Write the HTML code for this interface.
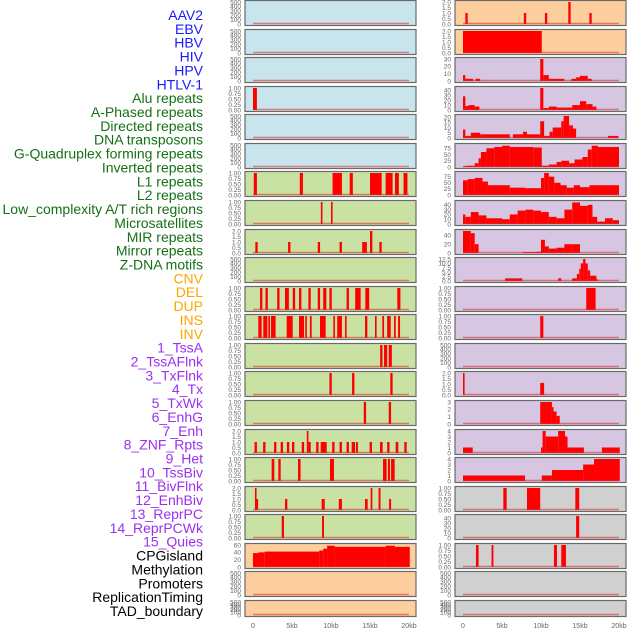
<!DOCTYPE html>
<html><head><meta charset="utf-8"><style>
body{margin:0;background:#fff;width:630px;height:630px;overflow:hidden}
svg{display:block}
text{font-family:"Liberation Sans","DejaVu Sans",sans-serif}
</style></head><body>
<svg id="chart" width="630" height="630" viewBox="0 0 630 630" xmlns="http://www.w3.org/2000/svg"></svg>
<script>
const trackLabels=["AAV2","EBV","HBV","HIV","HPV","HTLV-1","Alu repeats","A-Phased repeats","Directed repeats","DNA transposons","G-Quadruplex forming repeats","Inverted repeats","L1 repeats","L2 repeats","Low_complexity A/T rich regions","Microsatellites","MIR repeats","Mirror repeats","Z-DNA motifs","CNV","DEL","DUP","INS","INV","1_TssA","2_TssAFlnk","3_TxFlnk","4_Tx","5_TxWk","6_EnhG","7_Enh","8_ZNF_Rpts","9_Het","10_TssBiv","11_BivFlnk","12_EnhBiv","13_ReprPC","14_ReprPCWk","15_Quies","CPGisland","Methylation","Promoters","ReplicationTiming","TAD_boundary"];
const labelGroups=[6,13,5,15,5];
const xTickKb=[0,5,10,15,20];
const xTickLabels=["0","5kb","10kb","15kb","20kb"];
const leftMax=[500,500,500,1,500,500,1,1,2,500,1,1,1,1,1,2,1,2,1,60,500,500];
const rightMax=[2,2,30,45,21,88,90,46,50,12.5,1,1,500,2,3,4,4,1,45,1,500,500];
const leftTicks=[["0","100","200","300","400","500"],["0","100","200","300","400","500"],["0","100","200","300","400","500"],["0.00","0.25","0.50","0.75","1.00"],["0","100","200","300","400","500"],["0","100","200","300","400","500"],["0.00","0.25","0.50","0.75","1.00"],["0.00","0.25","0.50","0.75","1.00"],["0.0","0.5","1.0","1.5","2.0"],["0","100","200","300","400","500"],["0.00","0.25","0.50","0.75","1.00"],["0.00","0.25","0.50","0.75","1.00"],["0.00","0.25","0.50","0.75","1.00"],["0.00","0.25","0.50","0.75","1.00"],["0.00","0.25","0.50","0.75","1.00"],["0.0","0.5","1.0","1.5","2.0"],["0.00","0.25","0.50","0.75","1.00"],["0.0","0.5","1.0","1.5","2.0"],["0.00","0.25","0.50","0.75","1.00"],["0","20","40","60"],["0","100","200","300","400","500"],["0","100","200","300","400","500"]];
const rightTicks=[["0.0","0.5","1.0","1.5","2.0"],["0.0","0.5","1.0","1.5","2.0"],["0","10","20","30"],["0","10","20","30","40"],["0","5","10","15","20"],["0","25","50","75"],["0","25","50","75"],["0","10","20","30","40"],["0","20","40"],["0.0","2.5","5.0","7.5","10.0","12.5"],["0.00","0.25","0.50","0.75","1.00"],["0.00","0.25","0.50","0.75","1.00"],["0","100","200","300","400","500"],["0.0","0.5","1.0","1.5","2.0"],["0","1","2","3"],["0","1","2","3","4"],["0","1","2","3","4"],["0.00","0.25","0.50","0.75","1.00"],["0","10","20","30","40"],["0.00","0.25","0.50","0.75","1.00"],["0","100","200","300","400","500"],["0","100","200","300","400","500"]];
const leftBg=["#c8e4ec","#c8e4ec","#c8e4ec","#c8e4ec","#c8e4ec","#c8e4ec","#c9e1a3","#c9e1a3","#c9e1a3","#c9e1a3","#c9e1a3","#c9e1a3","#c9e1a3","#c9e1a3","#c9e1a3","#c9e1a3","#c9e1a3","#c9e1a3","#c9e1a3","#fecf9e","#fecf9e","#fecf9e"];
const rightBg=["#fecf9e","#fecf9e","#d6c6e1","#d6c6e1","#d6c6e1","#d6c6e1","#d6c6e1","#d6c6e1","#d6c6e1","#d6c6e1","#d6c6e1","#d6c6e1","#d6c6e1","#d6c6e1","#d6c6e1","#d6c6e1","#d6c6e1","#d0d0d0","#d0d0d0","#d0d0d0","#d0d0d0","#d0d0d0"];
// segments: [startKb, endKb, value]
const leftBars=[
[],[],[],
[[0,0.5,1]],
[],[],
[[0.1,0.5,1],[6,6.4,1],[10.2,11.4,1],[12.4,12.8,1],[15,16.5,1],[17,17.9,1],[18.2,18.7,1],[19.3,19.8,1]],
[[8.7,8.9,1],[10,10.2,1]],
[[0.3,0.6,1],[4.5,4.8,1],[8.3,8.6,1],[11.1,11.4,1],[14,14.6,1],[15,15.3,2],[16.2,16.5,1]],
[],
[[0.9,1.2,1],[1.6,1.9,1],[3.1,3.4,1],[4.1,4.6,1],[5.1,5.4,1],[5.9,6.2,1],[7.1,7.4,1],[8.3,8.6,1],[9,9.4,1],[9.8,10.1,1],[12,12.3,1],[13.1,13.8,1],[14.4,14.9,1],[18.5,18.9,1]],
[[0.68,1.11,1],[1.32,1.84,1],[1.97,2.18,1],[2.31,2.9,1],[4.32,5.09,1],[5.9,6.54,1],[6.7,6.88,1],[7.3,7.52,1],[8.59,9.32,1],[10.3,10.5,1],[10.8,11.4,1],[11.8,12,1],[14.36,14.66,1],[15.64,15.85,1],[16.58,16.8,1],[17.2,17.65,1],[18.08,18.3,1],[18.6,18.85,1]],
[[16.3,16.6,1],[16.8,17.2,1],[17.4,17.8,1]],
[[9.8,10.1,1],[12.7,13,1],[17.6,17.9,1]],
[[14.2,14.5,1],[17.4,17.7,1]],
[[0.2,0.5,1],[1.3,1.6,1],[2.7,3,1],[3.55,3.85,1],[4.35,4.65,1],[5,5.3,1],[6.25,6.55,1],[6.9,7.1,2],[7.1,7.4,1],[8.1,8.4,1],[8.68,9.45,1],[10.15,10.45,1],[11.1,11.4,1],[12,12.3,1],[12.65,13.08,1],[13.2,13.45,1],[14.95,15.25,1],[16.28,16.62,1],[17.2,17.5,1],[18.29,18.63,1],[19.4,19.7,1]],
[[2.39,2.73,1],[3.25,3.55,1],[5.77,6.1,1],[9.87,10.38,1],[16.67,17.13,1],[17.3,17.56,1],[17.7,18.16,1]],
[[0.25,0.45,2],[0.45,0.6,1],[4.1,4.4,1],[8.8,9.2,1],[11,11.4,1],[14.36,14.7,1],[15.08,15.3,2],[16.1,16.35,2],[17.45,17.7,1]],
[[3.68,3.97,1],[8.85,9.1,1]],
[[0,0.7,38],[0.7,1.5,40],[1.5,8.5,42],[8.5,9,45],[9,9.5,50],[9.5,10.5,58],[10.5,17,55],[17,18.2,58],[18.2,20.1,55]],
[],[]];
const rightBars=[
[[0.3,0.6,1],[7.8,8.1,1],[10.5,10.8,1],[13.5,13.8,2],[16.2,16.5,1]],
[[0,10.1,2]],
[[0,0.3,8],[0.3,1.3,3],[1.6,2.2,3],[9.9,10.3,30],[10.3,11,8],[11,13,3],[13.9,14.5,3],[14.5,15,5],[15,16,7],[16,16.5,3]],
[[0,0.3,28],[0.3,0.7,8],[0.7,1.5,10],[1.5,2.1,7],[9.9,10.3,45],[10.3,11,4],[11,12,7],[12,14,5],[14,15,10],[15,15.8,18],[15.8,16.6,12],[16.6,17.1,7]],
[[0,0.3,8],[0.3,1,2],[1,2.2,5],[2.2,6,3.5],[6.4,7.7,3.5],[7.7,8.2,6],[8.2,9.9,3.5],[9.9,10.4,16],[10.4,11.1,2],[11.1,11.5,6],[11.5,12.6,10],[12.6,12.9,16],[12.9,13.6,21],[13.6,14.1,12],[14.1,14.5,9],[18.6,19.9,2]],
[[0,0.5,3],[0.5,1.5,5],[1.5,2,15],[2,2.3,35],[2.3,3,60],[3,4,75],[4,5,80],[5,6,85],[6,9,80],[9,10.1,78],[10.1,11,5],[11,12,10],[12,12.6,20],[12.6,13.6,25],[13.6,14.3,15],[14.3,15.3,30],[15.3,16,40],[16,16.5,70],[16.5,17.3,85],[17.3,20,80]],
[[0,0.6,60],[0.6,1.5,65],[1.5,2.5,70],[2.5,3.2,55],[3.2,6,40],[6,8,30],[8,10,28],[10,10.4,70],[10.4,11,90],[11,11.7,75],[11.7,12.5,50],[12.5,13.3,40],[13.3,14.2,30],[14.2,15,40],[15,16.2,32],[16.2,20,40]],
[[0,0.3,20],[0.3,1,15],[1,2,25],[2,3,18],[3,5,12],[5,6,10],[6,7,20],[7,8,28],[8,9,30],[9,10,28],[10,11,25],[11,12,15],[12,13,12],[13,14,30],[14,15,45],[15,16,38],[16,16.6,40],[16.6,17.2,15],[17.2,18.2,5],[18.2,19.2,12],[19.2,20,8]],
[[0,1,50],[1,1.5,45],[1.5,2,20],[7.7,9.5,2],[9.5,10,3],[10,10.5,30],[10.5,11,15],[11,12,10],[12,13,12],[13,14,20],[14,15,20]],
[[5.4,7.6,1.5],[12.2,12.6,1.5],[14,14.6,1.5],[14.6,14.9,4],[14.9,15.1,7],[15.1,15.4,10],[15.4,15.7,12.5],[15.7,16,10],[16,16.3,6],[16.3,17.1,3],[17.1,17.3,1]],
[[15.8,17,1]],
[[9.9,10.3,1]],
[],
[[0,0.2,2],[9.9,10.4,1.1]],
[[9.9,11.4,3],[11.4,11.6,2.3],[11.6,12,1.7],[12,12.4,1.1]],
[[0,1.24,1],[10,10.2,1],[10.2,10.6,4],[10.6,12.2,3],[12.2,13.08,4],[13.08,13.4,3],[13.4,15.5,1],[17.8,20.1,1]],
[[0,7.95,1],[10.1,11.4,1],[11.4,15.4,2],[15.4,16.8,3],[16.8,20.1,4]],
[[5.17,5.6,1],[8.2,9.9,1],[14.4,14.9,1]],
[[14.5,14.9,45]],
[[1.66,2,1],[3.66,3.9,1],[11.66,12.05,1],[12.6,13.2,1]],
[],[]];

const svg=document.getElementById('chart');
const NS='http://www.w3.org/2000/svg';
function mk(tag,attrs,parent){const e=document.createElementNS(NS,tag);for(const k in attrs)e.setAttribute(k,attrs[k]);(parent||svg).appendChild(e);return e;}
const colColors=["#1a1aff","#157015","#ffa500","#9b30f0","#000000"];
let li=0;
labelGroups.forEach((n,g)=>{for(let j=0;j<n;j++){const t=mk('text',{x:203,y:15+li*13.86+5,'text-anchor':'end','font-size':'14',fill:colColors[g]});


t.textContent=trackLabels[li];li++;}});

const cols=[{x0:245,x1:416,k0:253,bg:leftBg,max:leftMax,ticks:leftTicks,bars:leftBars,tx:241,name:'left'},
            {x0:455,x1:626,k0:463,bg:rightBg,max:rightMax,ticks:rightTicks,bars:rightBars,tx:451,name:'right'}];
const pxPerKb=7.8;
for(let r=0;r<22;r++){
  const top=Math.round(r*28.57)+0.5, h=(r===21)?16:25;
  cols.forEach(c=>{
    const g=mk('g',{});
    
    
    mk('rect',{x:c.x0,y:top,width:c.x1-c.x0,height:h,fill:c.bg[r],stroke:'#6a6a6a','stroke-width':1.2},g);
    const yb=top+h-1.5, yt=top+1.5, mx=c.max[r];
    const yS=v=>yb-(v/mx)*(yb-yt);
    const xS=k=>c.k0+k*pxPerKb;
    c.bars[r].forEach(b=>{
      const x=xS(b[0]), w=Math.max(1.6,xS(b[1])-x);
      const rc=mk('rect',{x:x,y:yS(b[2]),width:w,height:yb-yS(b[2]),fill:'#ff0000'},g);
      
      
    });
    mk('line',{x1:xS(0),x2:xS(20),y1:yb-0.5,y2:yb-0.5,stroke:'rgba(220,40,40,0.55)','stroke-width':1.5},g);
    const tk=c.ticks[r];
    const vals=tk.map(parseFloat);
    tk.forEach((s,i)=>{
      const t=mk('text',{x:c.tx,y:yS(vals[i])+2.3,'text-anchor':'end','font-size':'6.5',fill:'#666'},g);
      
      
      t.textContent=s;
    });
  });
}
cols.forEach(c=>{xTickKb.forEach((k,i)=>{
  const t=mk('text',{x:c.k0+k*pxPerKb,y:628,'text-anchor':'middle','font-size':'7',fill:'#666'});
  
  
  t.textContent=xTickLabels[i];
});});
</script>
</body></html>
